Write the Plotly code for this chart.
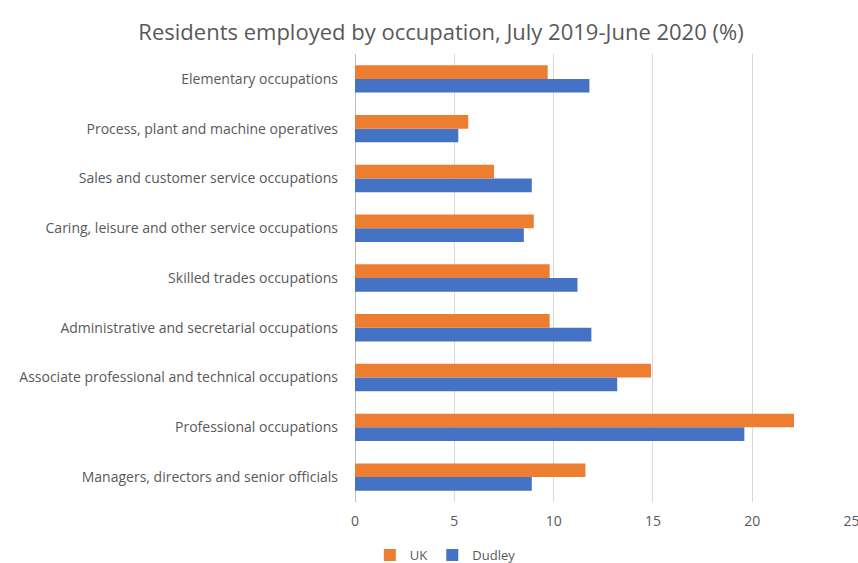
import plotly.graph_objects as go

# Occupation groups, listed from bottom to top of the chart
occupations = [
    "Managers, directors and senior officials",
    "Professional occupations",
    "Associate professional and technical occupations",
    "Administrative and secretarial occupations",
    "Skilled trades occupations",
    "Caring, leisure and other service occupations",
    "Sales and customer service occupations",
    "Process, plant and machine operatives",
    "Elementary occupations",
]

uk_pct = [11.6, 22.1, 14.9, 9.8, 9.8, 9.0, 7.0, 5.7, 9.7]
dudley_pct = [8.9, 19.6, 13.2, 11.9, 11.2, 8.5, 8.9, 5.2, 11.8]

x_ticks = [0, 5, 10, 15, 20, 25]

UK_COLOR = "#ED7D31"
DUDLEY_COLOR = "#4472C4"
TEXT_COLOR = "#595959"
FONT = "Open Sans"

fig = go.Figure()
# Dudley first so that it sits below UK inside each group
fig.add_trace(go.Bar(
    y=occupations, x=dudley_pct, name="Dudley", orientation="h",
    marker=dict(color=DUDLEY_COLOR, line=dict(width=0)), legendrank=2,
))
fig.add_trace(go.Bar(
    y=occupations, x=uk_pct, name="UK", orientation="h",
    marker=dict(color=UK_COLOR, line=dict(width=0)), legendrank=1,
))

fig.update_layout(
    width=858, height=563,
    margin=dict(l=355, r=6, t=54, b=61, autoexpand=False),
    paper_bgcolor="white", plot_bgcolor="white",
    barmode="group", bargap=0.45, bargroupgap=0,
    title=dict(
        text="Residents employed by occupation, July 2019-June 2020 (%)",
        x=0.514, xanchor="center", y=0.943, yanchor="middle",
        font=dict(family=FONT, size=22, color=TEXT_COLOR),
    ),
    font=dict(family=FONT, size=13, color=TEXT_COLOR),
    legend=dict(
        orientation="h", xref="container", yref="container",
        x=0.519, xanchor="center", y=0.014, yanchor="middle",
        font=dict(family=FONT, size=13, color=TEXT_COLOR),
        itemwidth=30, itemsizing="constant",
    ),
    xaxis=dict(
        range=[0, 25.02], tickvals=x_ticks, showgrid=True, gridcolor="#D9D9D9",
        gridwidth=1, zeroline=True, zerolinecolor="#BFBFBF", zerolinewidth=1,
        showline=False, ticks="", ticklabelstandoff=9, automargin=False,
        ticklabeloverflow="allow",
        tickfont=dict(family=FONT, size=14, color=TEXT_COLOR),
    ),
    yaxis=dict(
        type="category", categoryorder="array", categoryarray=occupations,
        showgrid=False, showline=False, ticks="", ticklabelstandoff=16,
        automargin=False,
        tickfont=dict(family=FONT, size=14, color=TEXT_COLOR),
    ),
)

fig.write_html("out.html")
